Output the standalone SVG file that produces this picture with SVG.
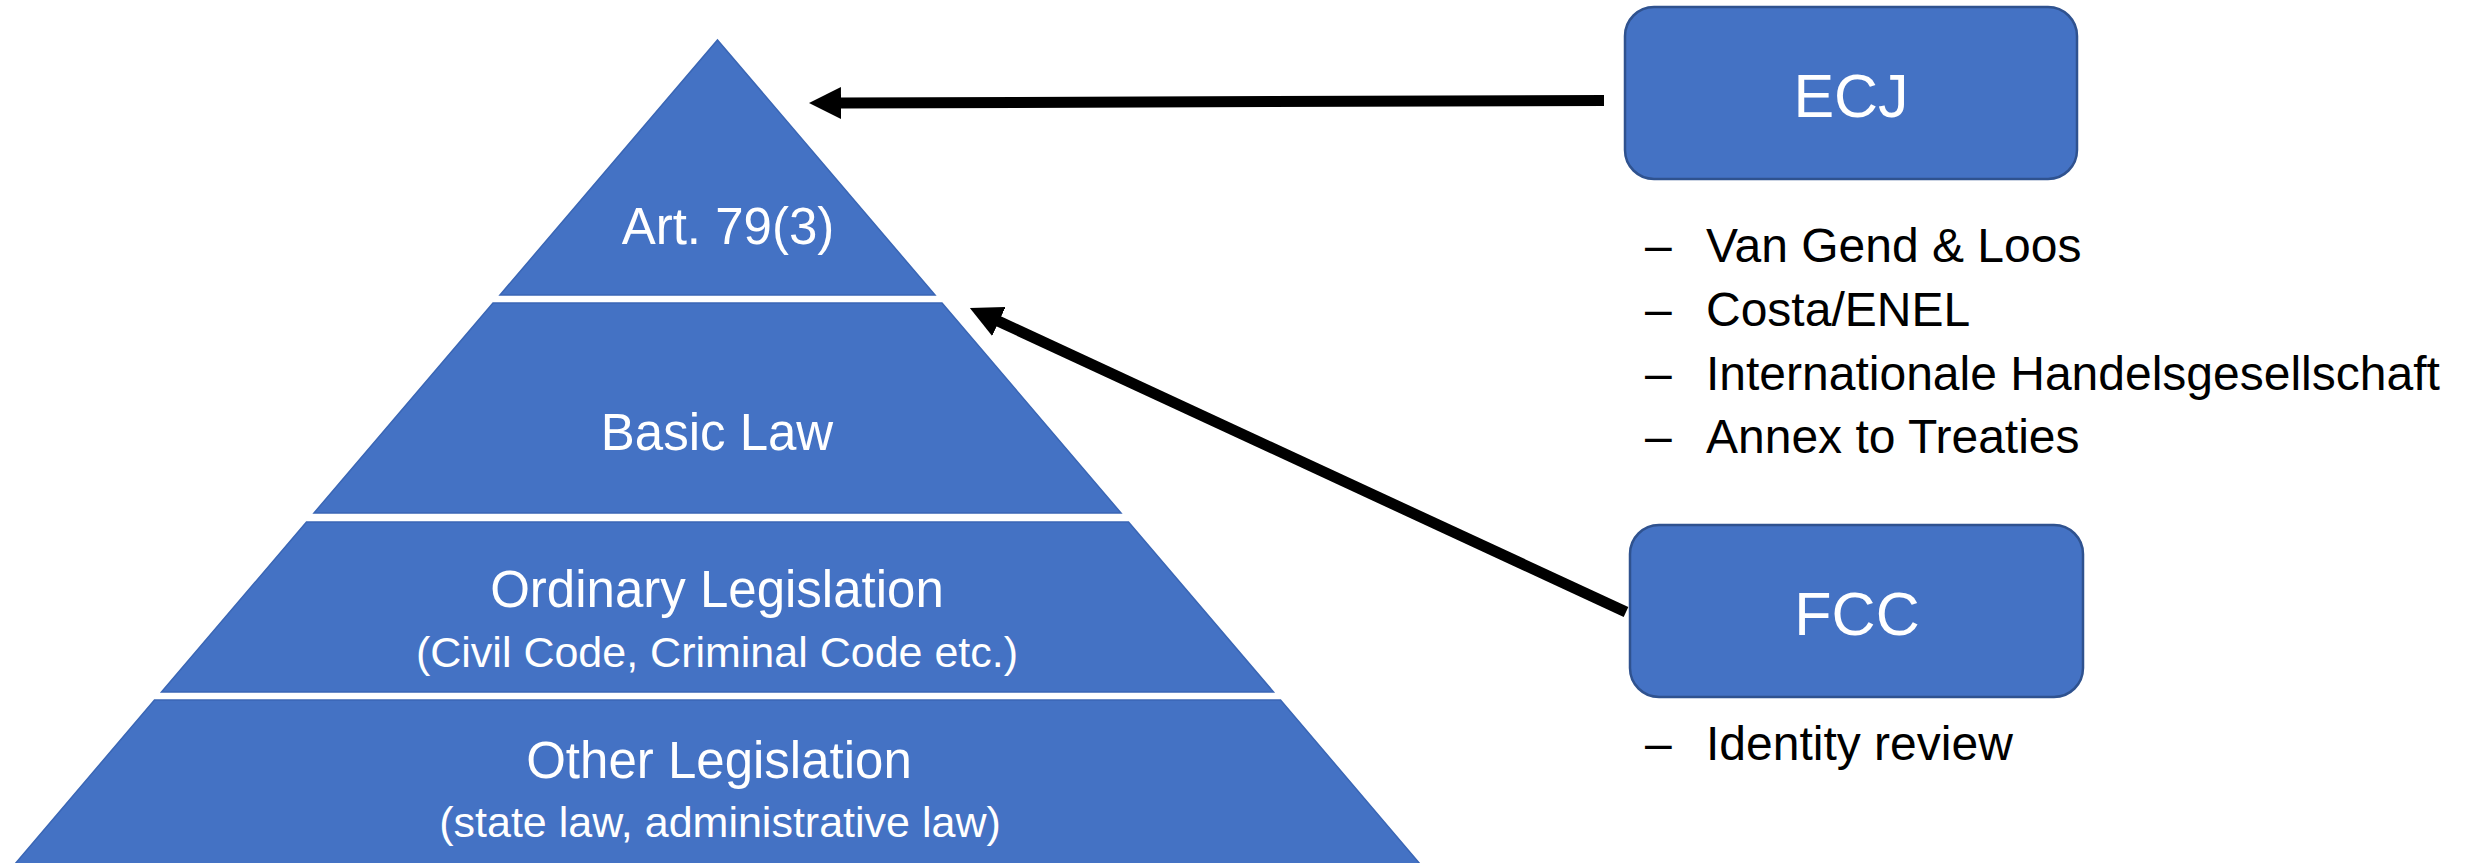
<svg xmlns="http://www.w3.org/2000/svg" width="2474" height="863" viewBox="0 0 2474 863">
<style>
.tier{fill:#4472C4;stroke:#3A66B5;stroke-width:1.5}
.box{fill:#4472C4;stroke:#2F528F;stroke-width:2.5}
.w{fill:#FFFFFF;font-family:"Liberation Sans",Arial,sans-serif;text-anchor:middle}
.t1{font-size:51px}
.t2{font-size:43px}
.t3{font-size:61px}
.li{fill:#000000;font-family:"Liberation Sans",Arial,sans-serif;font-size:48px}
.conn{fill:none;stroke:#000000;stroke-width:11}
</style>
<defs>
<marker id="ah" viewBox="0 0 32 32" markerWidth="32" markerHeight="32" refX="1" refY="16" orient="auto" markerUnits="userSpaceOnUse">
<path d="M0,0 L32,16 L0,32 z" fill="#000000"/>
</marker>
</defs>
<rect width="2474" height="863" fill="#FFFFFF"/>
<g id="tier-art79">
<polygon class="tier" points="717.5,40 935,295 500,295"/>
<text class="w t1" x="728" y="244">Art. 79(3)</text>
</g>
<g id="tier-basic-law">
<polygon class="tier" points="493,303 942,303 1121,513 314,513"/>
<text class="w t1" x="717" y="450">Basic Law</text>
</g>
<g id="tier-ordinary">
<polygon class="tier" points="306.5,522 1128.5,522 1273.5,692 161.5,692"/>
<text class="w t1" x="717" y="607">Ordinary Legislation</text>
<text class="w t2" x="717" y="667">(Civil Code, Criminal Code etc.)</text>
</g>
<g id="tier-other">
<polygon class="tier" points="154.5,700 1280.5,700 1420,864 15,864"/>
<text class="w t1" x="719" y="778">Other Legislation</text>
<text class="w t2" x="720" y="837">(state law, administrative law)</text>
</g>
<g id="ecj">
<rect class="box" x="1625" y="7" width="452" height="172" rx="29" ry="29"/>
<text class="w t3" x="1851" y="117">ECJ</text>
<text class="li" x="1645" y="262">–</text>
<text class="li" x="1706" y="262">Van Gend &amp; Loos</text>
<text class="li" x="1645" y="326">–</text>
<text class="li" x="1706" y="326">Costa/ENEL</text>
<text class="li" x="1645" y="390">–</text>
<text class="li" x="1706" y="390">Internationale Handelsgesellschaft</text>
<text class="li" x="1645" y="453">–</text>
<text class="li" x="1706" y="453">Annex to Treaties</text>
</g>
<g id="fcc">
<rect class="box" x="1630" y="525" width="453" height="172" rx="29" ry="29"/>
<text class="w t3" x="1857" y="635">FCC</text>
<text class="li" x="1645" y="760">–</text>
<text class="li" x="1706" y="760">Identity review</text>
</g>
<g id="connectors">
<path class="conn" d="M1604,100.5 L840,103" marker-end="url(#ah)"/>
<path class="conn" d="M1626,612 L998,321" marker-end="url(#ah)"/>
</g>
</svg>
